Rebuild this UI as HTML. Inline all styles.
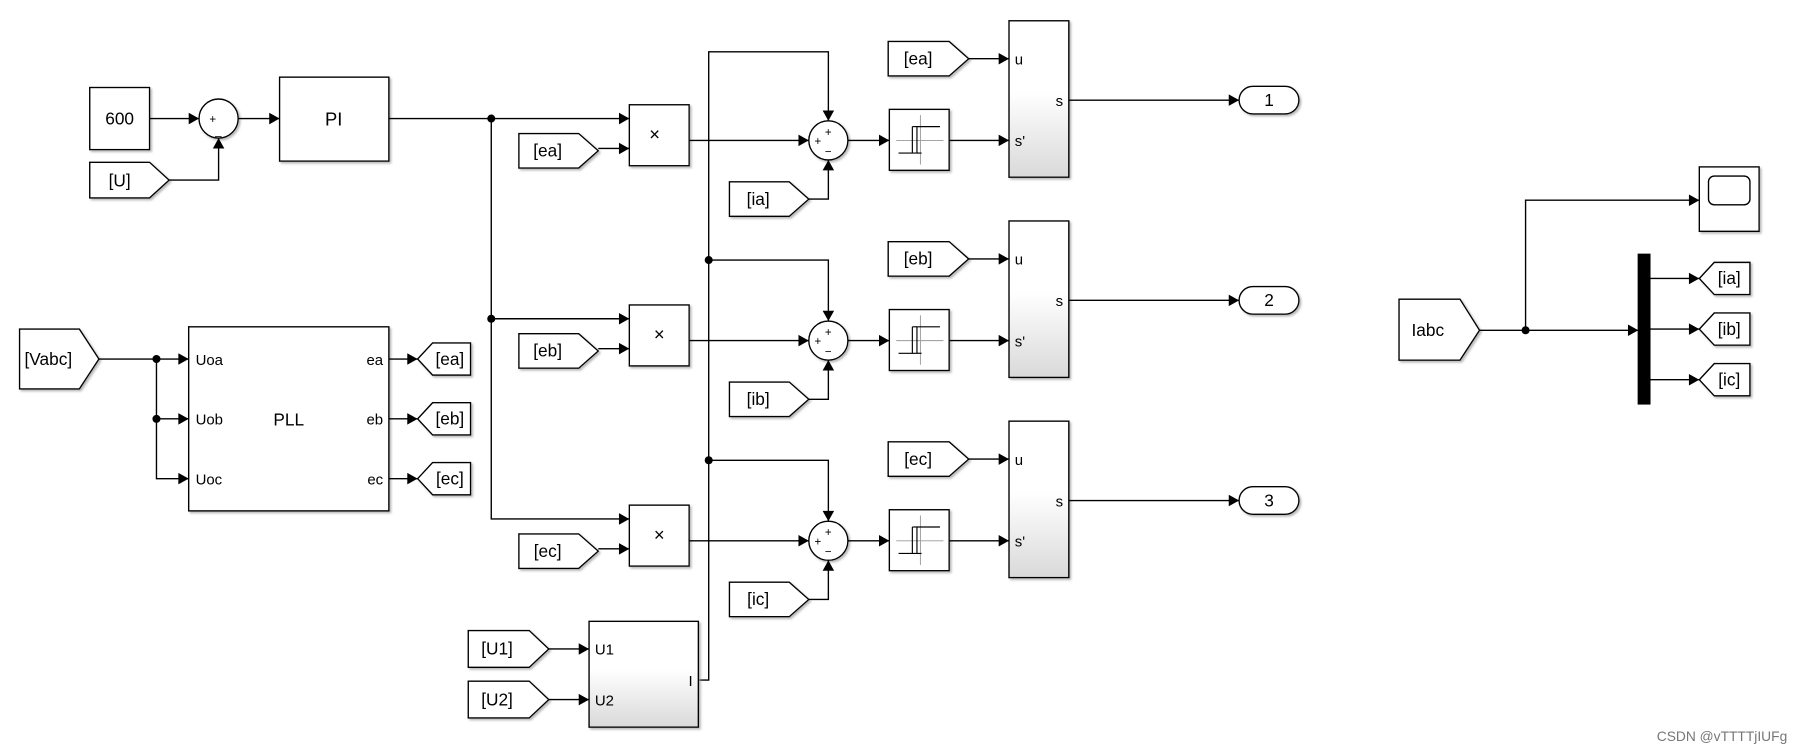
<!DOCTYPE html>
<html><head><meta charset="utf-8"><style>
html,body{margin:0;padding:0;background:#fff;}
svg{display:block;}
text{font-family:"Liberation Sans",Arial,sans-serif;fill:#000;}
</style></head><body>
<svg width="1804" height="756" viewBox="0 0 1568 657" xmlns="http://www.w3.org/2000/svg">
<defs>
<linearGradient id="g" x1="0" y1="0" x2="0" y2="1"><stop offset="0.45" stop-color="#fff"/><stop offset="1" stop-color="#d9d9d9"/></linearGradient>
<filter id="sh" x="-10%" y="-10%" width="130%" height="130%"><feDropShadow dx="1.5" dy="1.5" stdDeviation="1" flood-color="#999" flood-opacity="0.7"/></filter>
</defs>
<g stroke="#000" stroke-width="1.2" fill="#fff">
<!-- 600, sum, PI -->
<rect x="78" y="76" width="52" height="54" filter="url(#sh)"/>
<polygon points="78,141 130,141 147,156.5 130,172 78,172" filter="url(#sh)"/>
<circle cx="190" cy="103" r="17" filter="url(#sh)"/>
<rect x="243" y="67" width="95" height="73" filter="url(#sh)"/>
<polyline fill="none" points="130,103 173,103"/>
<polyline fill="none" points="147,156.5 190,156.5 190,120"/>
<polyline fill="none" points="207,103 243,103"/>
<polyline fill="none" points="338,103 547,103"/>
<polyline fill="none" points="427,103 427,451 547,451"/>
<polyline fill="none" points="427,277 547,277"/>
<!-- products -->
<rect x="547" y="91" width="52" height="53" filter="url(#sh)"/>
<rect x="547" y="265" width="52" height="53" filter="url(#sh)"/>
<rect x="547" y="439" width="52" height="53" filter="url(#sh)"/>
<polygon points="451,116 503,116 520,131 503,146 451,146" filter="url(#sh)"/>
<polygon points="451,290 503,290 520,305 503,320 451,320" filter="url(#sh)"/>
<polygon points="451,464 503,464 520,479 503,494 451,494" filter="url(#sh)"/>
<line x1="520" y1="129" x2="547" y2="129"/>
<line x1="520" y1="303" x2="547" y2="303"/>
<line x1="520" y1="477" x2="547" y2="477"/>
<line x1="599" y1="122" x2="703" y2="122"/>
<line x1="599" y1="296" x2="703" y2="296"/>
<line x1="599" y1="470" x2="703" y2="470"/>
<!-- vertical bus -->
<polyline fill="none" points="607,591 616,591 616,45 720,45 720,105"/>
<polyline fill="none" points="616,226 720,226 720,279"/>
<polyline fill="none" points="616,400 720,400 720,453"/>
<!-- sums -->
<circle cx="720" cy="122" r="17" filter="url(#sh)"/>
<circle cx="720" cy="296" r="17" filter="url(#sh)"/>
<circle cx="720" cy="470" r="17" filter="url(#sh)"/>
<polygon points="634,158 686,158 703,173 686,188 634,188" filter="url(#sh)"/>
<polygon points="634,332 686,332 703,347 686,362 634,362" filter="url(#sh)"/>
<polygon points="634,506 686,506 703,521 686,536 634,536" filter="url(#sh)"/>
<polyline fill="none" points="703,173 720,173 720,139"/>
<polyline fill="none" points="703,347 720,347 720,313"/>
<polyline fill="none" points="703,521 720,521 720,487"/>
<line x1="737" y1="122" x2="773" y2="122"/>
<line x1="737" y1="296" x2="773" y2="296"/>
<line x1="737" y1="470" x2="773" y2="470"/>
<!-- relays -->
<rect x="773" y="95" width="52" height="53" filter="url(#sh)"/>
<rect x="773" y="269" width="52" height="53" filter="url(#sh)"/>
<rect x="773" y="443" width="52" height="53" filter="url(#sh)"/>
<line x1="825" y1="122" x2="877" y2="122"/>
<line x1="825" y1="296" x2="877" y2="296"/>
<line x1="825" y1="470" x2="877" y2="470"/>
<!-- u tags -->
<polygon points="772,36 825,36 842,51 825,66 772,66" filter="url(#sh)"/>
<polygon points="772,210 825,210 842,225 825,240 772,240" filter="url(#sh)"/>
<polygon points="772,384 825,384 842,399 825,414 772,414" filter="url(#sh)"/>
<line x1="842" y1="51" x2="877" y2="51"/>
<line x1="842" y1="225" x2="877" y2="225"/>
<line x1="842" y1="399" x2="877" y2="399"/>
<!-- big blocks -->
<rect x="877" y="18" width="52" height="136" fill="url(#g)" filter="url(#sh)"/>
<rect x="877" y="192" width="52" height="136" fill="url(#g)" filter="url(#sh)"/>
<rect x="877" y="366" width="52" height="136" fill="url(#g)" filter="url(#sh)"/>
<line x1="929" y1="87" x2="1077" y2="87"/>
<line x1="929" y1="261" x2="1077" y2="261"/>
<line x1="929" y1="435" x2="1077" y2="435"/>
<rect x="1077" y="75" width="52" height="24" rx="12" filter="url(#sh)"/>
<rect x="1077" y="249" width="52" height="24" rx="12" filter="url(#sh)"/>
<rect x="1077" y="423" width="52" height="24" rx="12" filter="url(#sh)"/>
<!-- PLL -->
<polygon points="17,286 69,286 86,312 69,338 17,338" filter="url(#sh)"/>
<rect x="164" y="284" width="174" height="160" filter="url(#sh)"/>
<polyline fill="none" points="86,312 164,312"/>
<polyline fill="none" points="136,312 136,416 164,416"/>
<line x1="136" y1="364" x2="164" y2="364"/>
<line x1="338" y1="312" x2="363" y2="312"/>
<line x1="338" y1="364" x2="363" y2="364"/>
<line x1="338" y1="416" x2="363" y2="416"/>
<polygon points="363,312 376,298 409,298 409,326 376,326" filter="url(#sh)"/>
<polygon points="363,364 376,350 409,350 409,378 376,378" filter="url(#sh)"/>
<polygon points="363,416 376,402 409,402 409,430 376,430" filter="url(#sh)"/>
<!-- U1 U2 block -->
<polygon points="407,548 460,548 477,564 460,580 407,580" filter="url(#sh)"/>
<polygon points="407,592 460,592 477,608 460,624 407,624" filter="url(#sh)"/>
<rect x="512" y="540" width="95" height="92" fill="url(#g)" filter="url(#sh)"/>
<line x1="477" y1="564" x2="512" y2="564"/>
<line x1="477" y1="608" x2="512" y2="608"/>
<!-- right part -->
<polygon points="1216,260 1269,260 1286,287 1269,313 1216,313" filter="url(#sh)"/>
<line x1="1286" y1="287" x2="1424" y2="287"/>
<polyline fill="none" points="1326,287 1326,174 1477,174"/>
<rect x="1477" y="145" width="52" height="56" filter="url(#sh)"/>
<rect x="1485" y="153" width="36" height="25" rx="5"/>
<rect x="1424" y="221" width="10" height="130" fill="#000"/>
<line x1="1434" y1="242" x2="1477" y2="242"/>
<line x1="1434" y1="286" x2="1477" y2="286"/>
<line x1="1434" y1="330" x2="1477" y2="330"/>
<polygon points="1477,242 1490,228 1521,228 1521,256 1490,256" filter="url(#sh)"/>
<polygon points="1477,286 1490,272 1521,272 1521,300 1490,300" filter="url(#sh)"/>
<polygon points="1477,330 1490,316 1521,316 1521,344 1490,344" filter="url(#sh)"/>
</g>
<!-- relay glyphs -->
<g stroke="#999" stroke-width="0.8" fill="none">
<line x1="779" y1="122" x2="820" y2="122"/><line x1="800" y1="100" x2="800" y2="143"/>
<line x1="779" y1="296" x2="820" y2="296"/><line x1="800" y1="274" x2="800" y2="317"/>
<line x1="779" y1="470" x2="820" y2="470"/><line x1="800" y1="448" x2="800" y2="491"/>
</g>
<g stroke="#000" stroke-width="1" fill="none">
<polyline points="781,133 797,133 797,110 817,110"/><polyline points="793,133 793,110"/><line x1="797" y1="133" x2="801" y2="133"/><polyline points="793,110 797,110"/>
<polyline points="781,307 797,307 797,284 817,284"/><polyline points="793,307 793,284"/><line x1="797" y1="307" x2="801" y2="307"/><polyline points="793,284 797,284"/>
<polyline points="781,481 797,481 797,458 817,458"/><polyline points="793,481 793,458"/><line x1="797" y1="481" x2="801" y2="481"/><polyline points="793,458 797,458"/>
</g>
<!-- arrowheads -->
<g fill="#000">
<polygon points="164,98 173,103 164,108"/>
<polygon points="185,129 190,120 195,129"/>
<polygon points="234,98 243,103 234,108"/>
<polygon points="538,98 547,103 538,108"/><polygon points="538,124 547,129 538,134"/>
<polygon points="538,272 547,277 538,282"/><polygon points="538,298 547,303 538,308"/>
<polygon points="538,446 547,451 538,456"/><polygon points="538,472 547,477 538,482"/>
<polygon points="694,117 703,122 694,127"/><polygon points="694,291 703,296 694,301"/><polygon points="694,465 703,470 694,475"/>
<polygon points="715,96 720,105 725,96"/><polygon points="715,270 720,279 725,270"/><polygon points="715,444 720,453 725,444"/>
<polygon points="715,148 720,139 725,148"/><polygon points="715,322 720,313 725,322"/><polygon points="715,496 720,487 725,496"/>
<polygon points="764,117 773,122 764,127"/><polygon points="764,291 773,296 764,301"/><polygon points="764,465 773,470 764,475"/>
<polygon points="868,117 877,122 868,127"/><polygon points="868,291 877,296 868,301"/><polygon points="868,465 877,470 868,475"/>
<polygon points="868,46 877,51 868,56"/><polygon points="868,220 877,225 868,230"/><polygon points="868,394 877,399 868,404"/>
<polygon points="1068,82 1077,87 1068,92"/><polygon points="1068,256 1077,261 1068,266"/><polygon points="1068,430 1077,435 1068,440"/>
<polygon points="155,307 164,312 155,317"/><polygon points="155,359 164,364 155,369"/><polygon points="155,411 164,416 155,421"/>
<polygon points="354,307 363,312 354,317"/><polygon points="354,359 363,364 354,369"/><polygon points="354,411 363,416 354,421"/>
<polygon points="503,559 512,564 503,569"/><polygon points="503,603 512,608 503,613"/>
<polygon points="1415,282 1424,287 1415,292"/>
<polygon points="1468,169 1477,174 1468,179"/>
<polygon points="1468,237 1477,242 1468,247"/><polygon points="1468,281 1477,286 1468,291"/><polygon points="1468,325 1477,330 1468,335"/>
<circle cx="427" cy="103" r="3.5"/><circle cx="427" cy="277" r="3.5"/>
<circle cx="616" cy="226" r="3.5"/><circle cx="616" cy="400" r="3.5"/>
<circle cx="136" cy="312" r="3.5"/><circle cx="136" cy="364" r="3.5"/>
<circle cx="1326" cy="287" r="3.5"/>
</g>
<!-- text -->
<g font-size="15">
<text x="104" y="108" text-anchor="middle">600</text>
<text x="104" y="162" text-anchor="middle">[U]</text>
<text x="290" y="109" text-anchor="middle" font-size="16">PI</text>
<text x="476" y="136" text-anchor="middle">[ea]</text>
<text x="476" y="310" text-anchor="middle">[eb]</text>
<text x="476" y="484" text-anchor="middle">[ec]</text>
<text x="659" y="178" text-anchor="middle">[ia]</text>
<text x="659" y="352" text-anchor="middle">[ib]</text>
<text x="659" y="526" text-anchor="middle">[ic]</text>
<text x="798" y="56" text-anchor="middle">[ea]</text>
<text x="798" y="230" text-anchor="middle">[eb]</text>
<text x="798" y="404" text-anchor="middle">[ec]</text>
<text x="1103" y="92" text-anchor="middle">1</text>
<text x="1103" y="266" text-anchor="middle">2</text>
<text x="1103" y="440" text-anchor="middle">3</text>
<text x="42" y="317" text-anchor="middle">[Vabc]</text>
<text x="251" y="370" text-anchor="middle">PLL</text>
<text x="391" y="317" text-anchor="middle">[ea]</text>
<text x="391" y="369" text-anchor="middle">[eb]</text>
<text x="391" y="421" text-anchor="middle">[ec]</text>
<text x="432" y="569" text-anchor="middle">[U1]</text>
<text x="432" y="613" text-anchor="middle">[U2]</text>
<text x="1241" y="292" text-anchor="middle">Iabc</text>
<text x="1503" y="247" text-anchor="middle">[ia]</text>
<text x="1503" y="291" text-anchor="middle">[ib]</text>
<text x="1503" y="335" text-anchor="middle">[ic]</text>
</g>
<g font-size="13">
<text x="170" y="317">Uoa</text><text x="170" y="369">Uob</text><text x="170" y="421">Uoc</text>
<text x="333" y="317" text-anchor="end">ea</text><text x="333" y="369" text-anchor="end">eb</text><text x="333" y="421" text-anchor="end">ec</text>
<text x="517" y="569">U1</text><text x="517" y="613">U2</text>
<text x="602" y="596" text-anchor="end">I</text>
<text x="882" y="56">u</text><text x="882" y="127">s'</text><text x="924" y="92" text-anchor="end">s</text>
<text x="882" y="230">u</text><text x="882" y="301">s'</text><text x="924" y="266" text-anchor="end">s</text>
<text x="882" y="404">u</text><text x="882" y="475">s'</text><text x="924" y="440" text-anchor="end">s</text>
<text x="569" y="122" text-anchor="middle" font-size="16">×</text>
<text x="573" y="296" text-anchor="middle" font-size="16">×</text>
<text x="573" y="470" text-anchor="middle" font-size="16">×</text>
</g>
<g font-size="10" fill="#333">
<text x="182" y="107">+</text><text x="187" y="117">_</text>
<text x="717" y="118">+</text><text x="708" y="126">+</text><text x="717" y="135">−</text>
<text x="717" y="292">+</text><text x="708" y="300">+</text><text x="717" y="309">−</text>
<text x="717" y="466">+</text><text x="708" y="474">+</text><text x="717" y="483">−</text>
</g>
<text x="1440" y="644" font-size="12" style="fill:#777">CSDN @vTTTTjIUFg</text>
</svg>
</body></html>
